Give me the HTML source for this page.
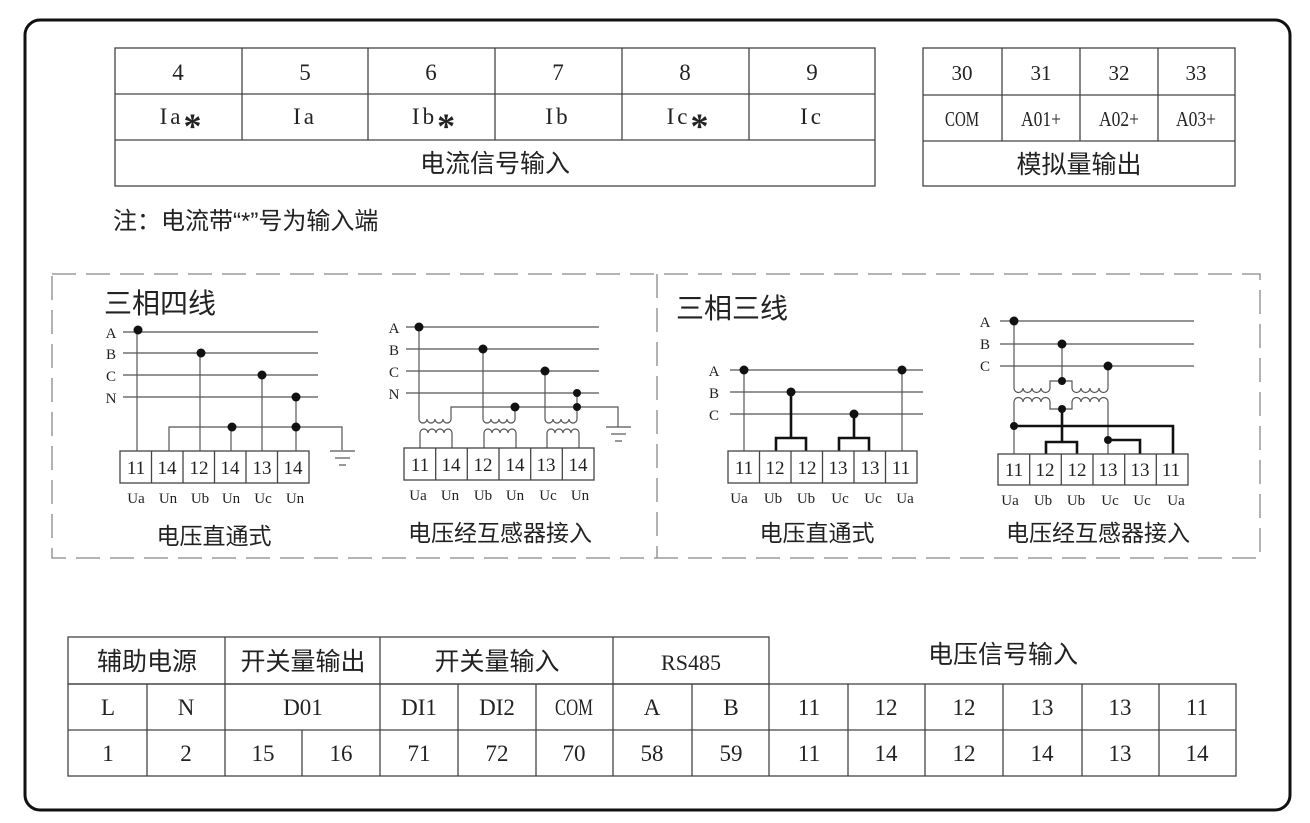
<!DOCTYPE html>
<html><head><meta charset="utf-8"><style>
html,body{margin:0;padding:0;background:#fff;}
svg{display:block;}
text{font-family:"Liberation Serif","Noto Sans CJK SC",serif;fill:#222;}
.cn{font-family:"Liberation Sans","Noto Sans CJK SC",sans-serif;}
.t{stroke:#555;stroke-width:1.2;fill:none;}
.k{stroke:#111;stroke-width:2.6;fill:none;}
.b{stroke:#444;stroke-width:1.3;fill:none;}
</style></head><body>
<svg width="1310" height="823" viewBox="0 0 1310 823" xmlns="http://www.w3.org/2000/svg">
<rect x="25" y="20" width="1265" height="790" rx="15" fill="none" stroke="#111" stroke-width="3"/>

<g class="b">
<rect x="115" y="48" width="760" height="138"/>
<line x1="115" y1="94" x2="875" y2="94"/><line x1="115" y1="140" x2="875" y2="140"/>
<line x1="242" y1="48" x2="242" y2="140"/><line x1="368" y1="48" x2="368" y2="140"/><line x1="495" y1="48" x2="495" y2="140"/><line x1="622" y1="48" x2="622" y2="140"/><line x1="749" y1="48" x2="749" y2="140"/>
</g>
<g font-size="23" text-anchor="middle">
<text x="178" y="80">4</text><text x="305" y="80">5</text><text x="431" y="80">6</text><text x="558" y="80">7</text><text x="685" y="80">8</text><text x="812" y="80">9</text>
<text x="182" y="124" letter-spacing="3">Ia<tspan font-size="36" font-weight="bold" dy="14">*</tspan></text>
<text x="305" y="124" letter-spacing="3">Ia</text>
<text x="435" y="124" letter-spacing="3">Ib<tspan font-size="36" font-weight="bold" dy="14">*</tspan></text>
<text x="558" y="124" letter-spacing="3">Ib</text>
<text x="689" y="124" letter-spacing="3">Ic<tspan font-size="36" font-weight="bold" dy="14">*</tspan></text>
<text x="812" y="124" letter-spacing="3">Ic</text>
<text class="cn" x="495" y="172" font-size="25">电流信号输入</text>
</g>
<g class="b">
<rect x="923" y="48" width="312" height="138"/>
<line x1="923" y1="95" x2="1235" y2="95"/><line x1="923" y1="141" x2="1235" y2="141"/>
<line x1="1002" y1="48" x2="1002" y2="141"/><line x1="1080" y1="48" x2="1080" y2="141"/><line x1="1158" y1="48" x2="1158" y2="141"/>
</g>
<g font-size="21" text-anchor="middle">
<text x="962" y="80">30</text><text x="1041" y="80">31</text><text x="1119" y="80">32</text><text x="1196" y="80">33</text>
<text x="962" y="126" textLength="34" lengthAdjust="spacingAndGlyphs">COM</text>
<text x="1041" y="126" textLength="40" lengthAdjust="spacingAndGlyphs">A01+</text>
<text x="1119" y="126" textLength="40" lengthAdjust="spacingAndGlyphs">A02+</text>
<text x="1196" y="126" textLength="40" lengthAdjust="spacingAndGlyphs">A03+</text>
<text class="cn" x="1079" y="173" font-size="25">模拟量输出</text>
</g>
<text class="cn" x="113" y="229" font-size="24">注：电流带“*”号为输入端</text>

<rect x="52" y="274" width="1208" height="284" fill="none" stroke="#888" stroke-width="1.3" stroke-dasharray="24,10"/>
<line x1="657" y1="274" x2="657" y2="558" stroke="#888" stroke-width="1.3" stroke-dasharray="24,10"/>
<text class="cn" x="104" y="313" font-size="28">三相四线</text>
<text class="cn" x="676" y="318" font-size="28">三相三线</text>

<g font-size="15" text-anchor="middle">
<text x="111" y="338">A</text><text x="111" y="359">B</text><text x="111" y="381">C</text><text x="111" y="403">N</text>
</g>
<g class="t">
<line x1="123" y1="332" x2="318" y2="332"/><line x1="123" y1="353" x2="318" y2="353"/><line x1="123" y1="375" x2="318" y2="375"/><line x1="123" y1="397" x2="318" y2="397"/>
<line x1="137" y1="332" x2="137" y2="451"/><line x1="200" y1="353" x2="200" y2="451"/><line x1="262" y1="375" x2="262" y2="451"/><line x1="296" y1="397" x2="296" y2="451"/>
<line x1="231" y1="427" x2="231" y2="451"/>
<polyline points="169,451 169,427 342,427 342,450"/>
<line x1="330" y1="451" x2="355" y2="451"/><line x1="335" y1="458" x2="350" y2="458"/><line x1="339" y1="465" x2="346" y2="465"/>
</g>
<g fill="#111"><circle cx="138" cy="330" r="4.5"/><circle cx="201" cy="353" r="4.5"/><circle cx="262" cy="375" r="4.5"/><circle cx="296" cy="397" r="4.5"/><circle cx="296" cy="427" r="4.5"/><circle cx="232" cy="427" r="4.5"/></g>
<g class="b"><rect x="120" y="451" width="189" height="32"/>
<line x1="151.5" y1="451" x2="151.5" y2="483"/><line x1="183" y1="451" x2="183" y2="483"/><line x1="214.5" y1="451" x2="214.5" y2="483"/><line x1="246" y1="451" x2="246" y2="483"/><line x1="277.5" y1="451" x2="277.5" y2="483"/></g>
<g font-size="19" text-anchor="middle">
<text x="136" y="474">11</text><text x="167" y="474">14</text><text x="199" y="474">12</text><text x="230" y="474">14</text><text x="262" y="474">13</text><text x="293" y="474">14</text>
</g>
<g font-size="15" text-anchor="middle">
<text x="136" y="503">Ua</text><text x="168" y="503">Un</text><text x="200" y="503">Ub</text><text x="231" y="503">Un</text><text x="263" y="503">Uc</text><text x="295" y="503">Un</text>
</g>
<text class="cn" x="214" y="544" font-size="23" text-anchor="middle">电压直通式</text>

<g font-size="15" text-anchor="middle">
<text x="394" y="333">A</text><text x="394" y="355">B</text><text x="394" y="377">C</text><text x="394" y="399">N</text>
</g>
<g class="t">
<line x1="406" y1="327" x2="599" y2="327"/><line x1="406" y1="349" x2="599" y2="349"/><line x1="406" y1="371" x2="599" y2="371"/><line x1="406" y1="393" x2="599" y2="393"/>
<polyline points="419,327 419,419"/>
<path d="M419,419 a4,4 0 0 0 8,0 a4,4 0 0 0 8,0 a4,4 0 0 0 8,0 a4,4 0 0 0 8,0"/>
<polyline points="451,419 451,407 618,407 618,427"/>
<polyline points="483,349 483,419"/>
<path d="M483,419 a4,4 0 0 0 8,0 a4,4 0 0 0 8,0 a4,4 0 0 0 8,0 a4,4 0 0 0 8,0"/>
<polyline points="515,419 515,407"/>
<polyline points="545,371 545,419"/>
<path d="M545,419 a4,4 0 0 0 8,0 a4,4 0 0 0 8,0 a4,4 0 0 0 8,0 a4,4 0 0 0 8,0"/>
<polyline points="577,419 577,393"/>
<path d="M420,448 V433 a4,4 0 0 1 8,0 a4,4 0 0 1 8,0 a4,4 0 0 1 8,0 a4,4 0 0 1 8,0 V448"/>
<path d="M484,448 V433 a4,4 0 0 1 8,0 a4,4 0 0 1 8,0 a4,4 0 0 1 8,0 a4,4 0 0 1 8,0 V448"/>
<path d="M547,448 V433 a4,4 0 0 1 8,0 a4,4 0 0 1 8,0 a4,4 0 0 1 8,0 a4,4 0 0 1 8,0 V448"/>
<line x1="606" y1="427" x2="631" y2="427"/><line x1="611" y1="434" x2="626" y2="434"/><line x1="615" y1="441" x2="622" y2="441"/>
</g>
<g fill="#111"><circle cx="419" cy="327" r="4.5"/><circle cx="483" cy="349" r="4.5"/><circle cx="545" cy="371" r="4.5"/><circle cx="577" cy="393" r="4"/><circle cx="577" cy="407" r="4"/><circle cx="515" cy="407" r="4.5"/></g>
<g class="b"><rect x="404" y="448" width="190" height="32"/>
<line x1="435.7" y1="448" x2="435.7" y2="480"/><line x1="467.3" y1="448" x2="467.3" y2="480"/><line x1="499" y1="448" x2="499" y2="480"/><line x1="530.7" y1="448" x2="530.7" y2="480"/><line x1="562.3" y1="448" x2="562.3" y2="480"/></g>
<g font-size="19" text-anchor="middle">
<text x="420" y="471">11</text><text x="451" y="471">14</text><text x="483" y="471">12</text><text x="515" y="471">14</text><text x="546" y="471">13</text><text x="578" y="471">14</text>
</g>
<g font-size="15" text-anchor="middle">
<text x="418" y="500">Ua</text><text x="450" y="500">Un</text><text x="483" y="500">Ub</text><text x="515" y="500">Un</text><text x="548" y="500">Uc</text><text x="580" y="500">Un</text>
</g>
<text class="cn" x="500" y="541" font-size="23" text-anchor="middle">电压经互感器接入</text>

<g font-size="15" text-anchor="middle">
<text x="714" y="376">A</text><text x="714" y="398">B</text><text x="714" y="420">C</text>
</g>
<g class="t">
<line x1="730" y1="370" x2="923" y2="370"/><line x1="730" y1="392" x2="923" y2="392"/><line x1="730" y1="414" x2="923" y2="414"/>
<line x1="744" y1="370" x2="744" y2="451"/><line x1="902" y1="370" x2="902" y2="451"/>
</g>
<g class="k">
<line x1="791" y1="392" x2="791" y2="438"/><polyline points="776,451 776,438 806,438 806,451"/>
<line x1="854" y1="414" x2="854" y2="438"/><polyline points="839,451 839,438 869,438 869,451"/>
</g>
<g fill="#111"><circle cx="744" cy="370" r="4.5"/><circle cx="902" cy="370" r="4.5"/><circle cx="791" cy="392" r="4.5"/><circle cx="854" cy="414" r="4.5"/></g>
<g class="b"><rect x="728" y="451" width="189" height="32"/>
<line x1="759.5" y1="451" x2="759.5" y2="483"/><line x1="791" y1="451" x2="791" y2="483"/><line x1="822.5" y1="451" x2="822.5" y2="483"/><line x1="854" y1="451" x2="854" y2="483"/><line x1="885.5" y1="451" x2="885.5" y2="483"/></g>
<g font-size="19" text-anchor="middle">
<text x="744" y="474">11</text><text x="775" y="474">12</text><text x="807" y="474">12</text><text x="838" y="474">13</text><text x="870" y="474">13</text><text x="901" y="474">11</text>
</g>
<g font-size="15" text-anchor="middle">
<text x="739" y="503">Ua</text><text x="773" y="503">Ub</text><text x="806" y="503">Ub</text><text x="840" y="503">Uc</text><text x="873" y="503">Uc</text><text x="905" y="503">Ua</text>
</g>
<text class="cn" x="817" y="541" font-size="23" text-anchor="middle">电压直通式</text>

<g font-size="15" text-anchor="middle">
<text x="985" y="327">A</text><text x="985" y="349">B</text><text x="985" y="371">C</text>
</g>
<g class="t">
<line x1="1000" y1="321" x2="1194" y2="321"/><line x1="1000" y1="344" x2="1194" y2="344"/><line x1="1000" y1="366" x2="1194" y2="366"/>
<line x1="1014" y1="321" x2="1014" y2="388"/>
<path d="M1014,388 a4.5,4.5 0 0 0 9,0 a4.5,4.5 0 0 0 9,0 a4.5,4.5 0 0 0 9,0 a4.5,4.5 0 0 0 9,0"/>
<polyline points="1050,388 1050,381 1072,381 1072,388"/>
<path d="M1072,388 a4.5,4.5 0 0 0 9,0 a4.5,4.5 0 0 0 9,0 a4.5,4.5 0 0 0 9,0 a4.5,4.5 0 0 0 9,0"/>
<line x1="1108" y1="388" x2="1108" y2="366"/>
<line x1="1062" y1="344" x2="1062" y2="381"/>
<path d="M1014,454 V402 a4.5,4.5 0 0 1 9,0 a4.5,4.5 0 0 1 9,0 a4.5,4.5 0 0 1 9,0 a4.5,4.5 0 0 1 9,0"/>
<polyline points="1050,402 1050,409 1072,409 1072,402"/>
<path d="M1072,402 a4.5,4.5 0 0 1 9,0 a4.5,4.5 0 0 1 9,0 a4.5,4.5 0 0 1 9,0 a4.5,4.5 0 0 1 9,0 V454"/>
</g>
<g class="k">
<line x1="1062" y1="409" x2="1062" y2="442"/><polyline points="1046,454 1046,442 1077,442 1077,454"/>
<polyline points="1014,426 1173,426 1173,454"/>
<polyline points="1108,440 1140,440 1140,454"/>
</g>
<g fill="#111"><circle cx="1014" cy="321" r="4.5"/><circle cx="1062" cy="344" r="4.5"/><circle cx="1108" cy="366" r="4.5"/><circle cx="1062" cy="381" r="4"/><circle cx="1062" cy="409" r="4"/><circle cx="1014" cy="426" r="4"/><circle cx="1108" cy="440" r="4"/></g>
<g class="b"><rect x="998" y="454" width="190" height="31"/>
<line x1="1029.7" y1="454" x2="1029.7" y2="485"/><line x1="1061.3" y1="454" x2="1061.3" y2="485"/><line x1="1093" y1="454" x2="1093" y2="485"/><line x1="1124.7" y1="454" x2="1124.7" y2="485"/><line x1="1156.3" y1="454" x2="1156.3" y2="485"/></g>
<g font-size="19" text-anchor="middle">
<text x="1014" y="476">11</text><text x="1045" y="476">12</text><text x="1077" y="476">12</text><text x="1108" y="476">13</text><text x="1140" y="476">13</text><text x="1171" y="476">11</text>
</g>
<g font-size="15" text-anchor="middle">
<text x="1010" y="505">Ua</text><text x="1043" y="505">Ub</text><text x="1076" y="505">Ub</text><text x="1110" y="505">Uc</text><text x="1142" y="505">Uc</text><text x="1176" y="505">Ua</text>
</g>
<text class="cn" x="1098" y="541" font-size="23" text-anchor="middle">电压经互感器接入</text>

<g class="b">
<rect x="68" y="637" width="701" height="47"/>
<line x1="225" y1="637" x2="225" y2="684"/><line x1="380" y1="637" x2="380" y2="684"/><line x1="613" y1="637" x2="613" y2="684"/>
<rect x="68" y="684" width="1168" height="92"/>
<line x1="68" y1="730" x2="1236" y2="730"/>
<line x1="147" y1="684" x2="147" y2="776"/><line x1="225" y1="684" x2="225" y2="776"/><line x1="302" y1="730" x2="302" y2="776"/>
<line x1="380" y1="684" x2="380" y2="776"/><line x1="458" y1="684" x2="458" y2="776"/><line x1="536" y1="684" x2="536" y2="776"/>
<line x1="613" y1="684" x2="613" y2="776"/><line x1="692" y1="684" x2="692" y2="776"/><line x1="769" y1="684" x2="769" y2="776"/>
<line x1="848" y1="684" x2="848" y2="776"/><line x1="925" y1="684" x2="925" y2="776"/><line x1="1003" y1="684" x2="1003" y2="776"/>
<line x1="1082" y1="684" x2="1082" y2="776"/><line x1="1159" y1="684" x2="1159" y2="776"/>
</g>
<g text-anchor="middle">
<g class="cn" font-size="25">
<text x="147" y="670">辅助电源</text><text x="303" y="670">开关量输出</text><text x="497" y="670">开关量输入</text><text x="1003" y="663">电压信号输入</text>
</g>
<text x="691" y="670" font-size="22">RS485</text>
<g font-size="23">
<text x="108" y="715">L</text><text x="186" y="715">N</text><text x="303" y="715">D01</text><text x="419" y="715">DI1</text><text x="497" y="715">DI2</text><text x="574" y="715" textLength="38" lengthAdjust="spacingAndGlyphs">COM</text>
<text x="652" y="715">A</text><text x="731" y="715">B</text>
<text x="809" y="715">11</text><text x="886" y="715">12</text><text x="964" y="715">12</text><text x="1042" y="715">13</text><text x="1120" y="715">13</text><text x="1197" y="715">11</text>
<text x="108" y="761">1</text><text x="186" y="761">2</text><text x="263" y="761">15</text><text x="341" y="761">16</text><text x="419" y="761">71</text><text x="497" y="761">72</text><text x="574" y="761">70</text>
<text x="652" y="761">58</text><text x="731" y="761">59</text>
<text x="809" y="761">11</text><text x="886" y="761">14</text><text x="964" y="761">12</text><text x="1042" y="761">14</text><text x="1120" y="761">13</text><text x="1197" y="761">14</text>
</g>
</g>
</svg>
</body></html>
